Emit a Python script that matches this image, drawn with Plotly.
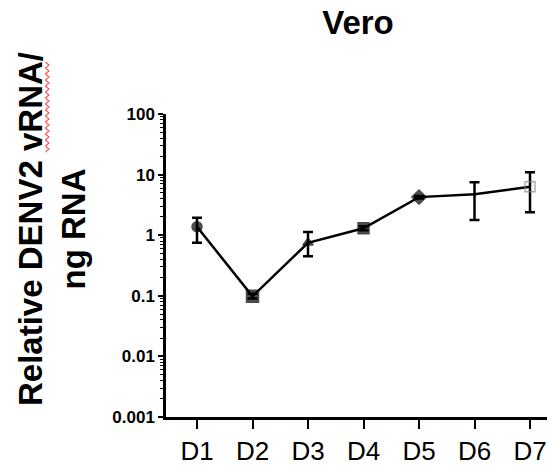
import plotly.graph_objects as go

# ---- data ----
days = ["D1", "D2", "D3", "D4", "D5", "D6", "D7"]
mean_vals = [1.38, 0.098, 0.75, 1.30, 4.25, 4.73, 6.3]
upper_vals = [1.94, 0.108, 1.13, 1.40, 4.45, 7.5, 10.9]
lower_vals = [0.75, 0.090, 0.45, 1.21, 4.05, 1.78, 2.39]
y_tick_vals = [0.001, 0.01, 0.1, 1, 10, 100]
y_tick_text = ["0.001", "0.01", "0.1", "1", "10", "100"]
title_text = "Vero"
y_title = "Relative DENV2 vRNA/<br>ng RNA"

# ---- styles ----
symbols = ["circle", "square", "triangle-up", "square", "diamond", "line-ew", "square-open"]
sym_colors = ["black", "black", "black", "black", "black", "black", "#888888"]
sym_sizes = [10, 12, 9, 11, 11, 2, 10]

W, H = 547, 472
L, R, T, B = 166, 0, 114, 55
pw, ph = W - L - R, H - T - B

err_plus = [u - m for u, m in zip(upper_vals, mean_vals)]
err_minus = [m - l for m, l in zip(mean_vals, lower_vals)]
x_idx = list(range(len(days)))

fig = go.Figure()
fig.add_trace(go.Scatter(
    x=x_idx, y=mean_vals, mode="lines+markers",
    line=dict(color="black", width=2.5),
    marker=dict(symbol=symbols, color=sym_colors, size=sym_sizes,
                line=dict(color=sym_colors, width=1.5)),
    error_y=dict(type="data", array=err_plus, arrayminus=err_minus,
                 color="black", thickness=2.5, width=5),
    showlegend=False,
))

spacing = 55.5
x0 = -(197 - L) / spacing
x1 = x0 + pw / spacing

sans = "Liberation Sans, Arial"

# spell-check style red squiggle beside "vRNA/" (decoration, pixel -> paper)
def px_x(px):
    return (px - L) / pw

def px_y(py):
    return (T + ph - py) / ph

sq = []
py = 62.0
k = 0
while py <= 152:
    xx = 45.5 if k % 2 == 0 else 49.0
    sq.append(("M" if k == 0 else "L") + f"{px_x(xx):.5f},{px_y(py):.5f}")
    py += 3.0
    k += 1

fig.update_layout(
    width=W, height=H,
    margin=dict(l=L, r=R, t=T, b=B),
    plot_bgcolor="white", paper_bgcolor="white",
    title=dict(text="<b>" + title_text + "</b>", x=358 / W, xanchor="center",
               xref="container", yref="container", y=1 - 22 / H, yanchor="middle",
               font=dict(family=sans, size=33, color="black")),
    xaxis=dict(
        range=[x0, x1], tickmode="array", tickvals=x_idx, ticktext=days,
        showline=True, linecolor="black", linewidth=2.5,
        ticks="outside", ticklen=9, tickwidth=2, tickcolor="black",
        showgrid=False, zeroline=False,
        tickfont=dict(family=sans, size=26, color="black"),
    ),
    yaxis=dict(
        type="log", range=[-3, 2], tickmode="array",
        tickvals=y_tick_vals, ticktext=["<b>" + t + "</b>" for t in y_tick_text],
        showline=True, linecolor="black", linewidth=2.5,
        ticks="outside", ticklen=5, tickwidth=2, tickcolor="black",
        minor=dict(ticks="outside", ticklen=3, tickwidth=1.2, tickcolor="black",
                   dtick="D1", showgrid=False),
        showgrid=False, zeroline=False,
        tickfont=dict(family=sans, size=17, color="black"),
    ),
    annotations=[dict(
        text="<b>" + y_title + "</b>", textangle=-90,
        xref="paper", yref="paper",
        x=px_x(52), y=px_y(229),
        xanchor="center", yanchor="middle", showarrow=False,
        font=dict(family=sans, size=33, color="black"),
    )],
    shapes=[dict(type="path", path=" ".join(sq), xref="paper", yref="paper",
                 line=dict(color="#ff5a5a", width=1.2), layer="above")],
)

fig.write_html("out.html")
